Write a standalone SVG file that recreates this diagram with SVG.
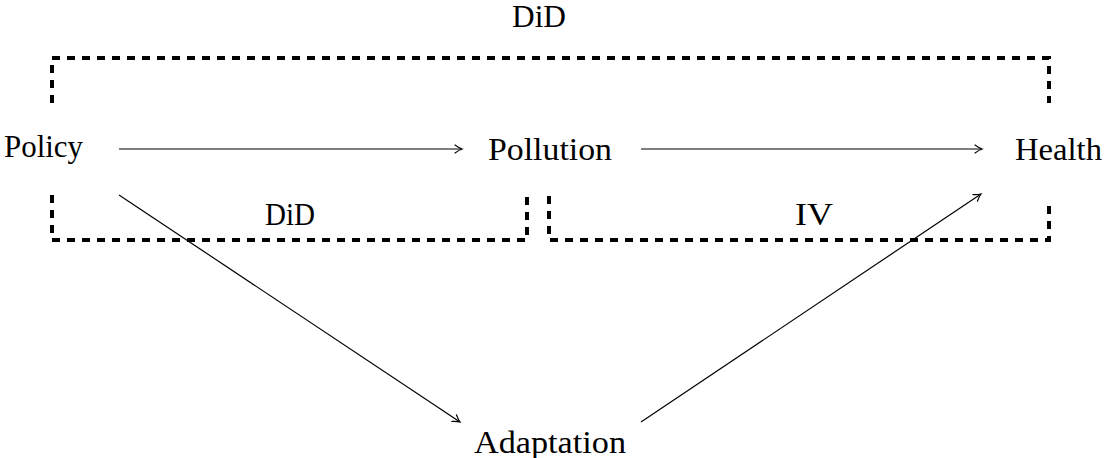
<svg xmlns="http://www.w3.org/2000/svg" width="1105" height="458" viewBox="0 0 1105 458">
<style>
.lbl{font-family:"Liberation Serif","Times New Roman",serif;font-size:31px;fill:#000}
.edge{stroke:#000;stroke-width:1.2;fill:none}
.br{stroke:#000;stroke-width:4;fill:none;stroke-dasharray:8 7}
</style>
<defs>
<marker id="to" markerUnits="userSpaceOnUse" markerWidth="14" markerHeight="12" viewBox="-10 -6 12 12" refX="0" refY="0" orient="auto">
<path d="M-7,-4 Q-2.5,-0.8 0,0 Q-2.5,0.8 -7,4" stroke="#000" stroke-width="1.2" fill="none" stroke-linecap="round"/>
</marker>
</defs>
<rect width="1105" height="458" fill="#fff"/>
<g id="brackets">
<path class="br" d="M52,103 V58 H1049 V103"/>
<path class="br" d="M52,195 V240 H527 V196"/>
<path class="br" d="M549,196 V240 H1049 V203"/>
<text class="lbl" x="512" y="27" textLength="54" lengthAdjust="spacingAndGlyphs">DiD</text>
<text class="lbl" x="265" y="225" textLength="50" lengthAdjust="spacingAndGlyphs">DiD</text>
<text class="lbl" x="795" y="225" textLength="38" lengthAdjust="spacingAndGlyphs">IV</text>
</g>
<g id="connectors">
<line class="edge" x1="119" y1="149" x2="462" y2="149" marker-end="url(#to)"/>
<line class="edge" x1="641" y1="149" x2="982" y2="149" marker-end="url(#to)"/>
<line class="edge" x1="119" y1="195" x2="460" y2="422" marker-end="url(#to)"/>
<line class="edge" x1="641" y1="422" x2="981" y2="194" marker-end="url(#to)"/>
</g>
<g id="policy"><text class="lbl" x="4" y="157" textLength="79" lengthAdjust="spacingAndGlyphs">Policy</text></g>
<g id="pollution"><text class="lbl" x="488" y="160" textLength="124" lengthAdjust="spacingAndGlyphs">Pollution</text></g>
<g id="health"><text class="lbl" x="1015" y="160" textLength="87" lengthAdjust="spacingAndGlyphs">Health</text></g>
<g id="adaptation"><text class="lbl" x="474" y="453" textLength="152" lengthAdjust="spacingAndGlyphs">Adaptation</text></g>
</svg>
